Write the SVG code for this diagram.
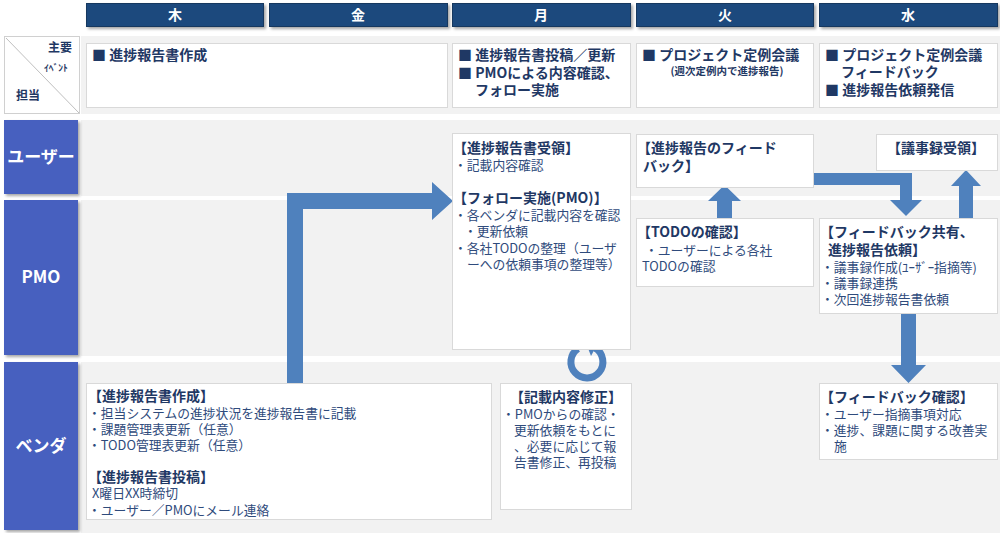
<svg xmlns="http://www.w3.org/2000/svg" width="1000" height="533" viewBox="0 0 1000 533">
<defs>
<filter id="sh" x="-10%" y="-10%" width="130%" height="150%"><feDropShadow dx="2" dy="2" stdDeviation="1.5" flood-color="#000" flood-opacity="0.35"/></filter>
</defs>
<style>
text{font-family:'Noto Sans CJK JP','Noto Sans CJK SC',sans-serif;}
.hd{fill:#1F497D;stroke:#17375E;stroke-width:1}
.hdt{fill:#fff;font-size:14px;font-weight:bold;text-anchor:middle}
.lane{fill:#F2F2F2}
.lb{fill:#4760BF}
.lbt{fill:#fff;font-size:17px;font-weight:bold;text-anchor:middle}
.box{fill:#fff;stroke:#D9D9D9;stroke-width:1}
.ev{fill:#1F3864;font-size:14px;font-weight:bold}
.sub{fill:#1F3864;font-size:10.5px;font-weight:bold;text-anchor:middle}
.ti{fill:#1F3864;font-size:14px;font-weight:bold}
.bd{fill:#2F4B7C;font-size:12.8px}
.ar{fill:#4F81BD}
.cn{fill:#1F3864;font-weight:bold}
</style>
<rect width="1000" height="533" fill="#fff"/>
<g id="headers">
<rect class="hd" x="86.5" y="3.5" width="177" height="23" filter="url(#sh)"/>
<text class="hdt" x="175" y="20">木</text>
<rect class="hd" x="269.5" y="3.5" width="178" height="23" filter="url(#sh)"/>
<text class="hdt" x="358" y="20">金</text>
<rect class="hd" x="452.5" y="3.5" width="178" height="23" filter="url(#sh)"/>
<text class="hdt" x="541" y="20">月</text>
<rect class="hd" x="636.5" y="3.5" width="177" height="23" filter="url(#sh)"/>
<text class="hdt" x="725" y="20">火</text>
<rect class="hd" x="819.5" y="3.5" width="178" height="23" filter="url(#sh)"/>
<text class="hdt" x="908" y="20">水</text>
</g>
<g id="lanes">
<rect class="lane" x="81" y="36" width="919" height="78"/>
<rect class="lane" x="81" y="120" width="919" height="76"/>
<rect class="lane" x="81" y="200" width="919" height="156"/>
<rect class="lane" x="81" y="362" width="919" height="171"/>
</g>
<g id="corner">
<rect x="4.5" y="36.5" width="75" height="77" fill="#fff" stroke="#D0D0D0"/>
<line x1="6" y1="38" x2="79" y2="113" stroke="#BFBFBF" stroke-width="1"/>
<text class="cn" x="48" y="52" font-size="12">主要</text>
<text class="cn" x="44" y="71" font-size="9.5">ｲﾍﾞﾝﾄ</text>
<text class="cn" x="16" y="100" font-size="12">担当</text>
</g>
<g id="events">
<rect class="box" x="86.5" y="43.5" width="361" height="64"/>
<text class="ev" x="92" y="60">■ 進捗報告書作成</text>
<rect class="box" x="452.5" y="43.5" width="178" height="64"/>
<text class="ev" x="458" y="60">■ 進捗報告書投稿／更新</text>
<text class="ev" x="458" y="78">■ PMOによる内容確認、</text>
<text class="ev" x="475" y="95">フォロー実施</text>
<rect class="box" x="636.5" y="43.5" width="177" height="64"/>
<text class="ev" x="642" y="60">■ プロジェクト定例会議</text>
<text class="sub" x="727" y="75">(週次定例内で進捗報告)</text>
<rect class="box" x="819.5" y="43.5" width="178" height="64"/>
<text class="ev" x="825" y="60">■ プロジェクト定例会議</text>
<text class="ev" x="841" y="77">フィードバック</text>
<text class="ev" x="825" y="95">■ 進捗報告依頼発信</text>
</g>
<g id="lane-labels">
<rect class="lb" x="4" y="120" width="74" height="74" filter="url(#sh)"/>
<text class="lbt" x="41" y="163">ユーザー</text>
<rect class="lb" x="4" y="200" width="74" height="155" filter="url(#sh)"/>
<text class="lbt" x="41" y="283">PMO</text>
<rect class="lb" x="4" y="362" width="74" height="168" filter="url(#sh)"/>
<text class="lbt" x="41" y="452">ベンダ</text>
</g>
<g id="connectors">
<polygon class="ar" points="287,386 287,193 432,193 432,182 453,201 432,220 432,209 303,209 303,386"/>
<polygon class="ar" points="717,218 717,201 708,201 724.5,185 741,201 732,201 732,218"/>
<polygon class="ar" points="813,173 912,173 912,200 922,200 906,216 890,200 900,200 900,185 813,185"/>
<polygon class="ar" points="959,218 959,186 951,186 966,170 981,186 973,186 973,218"/>
<polygon class="ar" points="901,313 916,313 916,365 926,365 908.5,383 891,365 901,365"/>
<g id="loop">
<path d="M595,348.1 A16,16 0 1 1 578,348.6" fill="none" stroke="#4F81BD" stroke-width="7"/>
<polygon class="ar" points="599.5,340 591,356 586,343"/>
</g>
</g>
<g id="n-mon">
<rect class="box" x="452.5" y="133.5" width="178" height="216"/>
<text class="ti" x="453" y="153">【進捗報告書受領】</text>
<text class="bd" x="454" y="170">・記載内容確認</text>
<text class="ti" x="453" y="203">【フォロー実施(PMO)】</text>
<text class="bd" x="454" y="220">・各ベンダに記載内容を確認</text>
<text class="bd" x="464" y="236">・更新依頼</text>
<text class="bd" x="454" y="253">・各社TODOの整理（ユーザ</text>
<text class="bd" x="467" y="269">ーへの依頼事項の整理等）</text>
</g>
<g id="n-tue-user">
<rect class="box" x="636.5" y="134.5" width="177" height="53"/>
<text class="ti" x="637" y="153">【進捗報告のフィード</text>
<text class="ti" x="643" y="171">バック】</text>
</g>
<g id="n-tue-pmo">
<rect class="box" x="636.5" y="218.5" width="177" height="68"/>
<text class="ti" x="637" y="237">【TODOの確認】</text>
<text class="bd" x="645" y="255">・ユーザーによる各社</text>
<text class="bd" x="642" y="271">TODOの確認</text>
</g>
<g id="n-wed-user">
<rect class="box" x="876.5" y="134.5" width="121" height="36"/>
<text class="ti" x="936" y="153" text-anchor="middle">【議事録受領】</text>
</g>
<g id="n-wed-pmo">
<rect class="box" x="819.5" y="218.5" width="178" height="95"/>
<text class="ti" x="820" y="237">【フィードバック共有、</text>
<text class="ti" x="828" y="255">進捗報告依頼】</text>
<text class="bd" x="821" y="272">・議事録作成(ﾕｰｻﾞｰ指摘等)</text>
<text class="bd" x="821" y="288">・議事録連携</text>
<text class="bd" x="821" y="304">・次回進捗報告書依頼</text>
</g>
<g id="n-vendor-thu">
<rect class="box" x="86.5" y="383.5" width="405" height="136"/>
<text class="ti" x="88" y="401">【進捗報告書作成】</text>
<text class="bd" x="88" y="418">・担当システムの進捗状況を進捗報告書に記載</text>
<text class="bd" x="88" y="434">・課題管理表更新（任意）</text>
<text class="bd" x="88" y="450">・TODO管理表更新（任意）</text>
<text class="ti" x="88" y="482">【進捗報告書投稿】</text>
<text class="bd" x="92" y="498">X曜日XX時締切</text>
<text class="bd" x="88" y="515">・ユーザー／PMOにメール連絡</text>
</g>
<g id="n-vendor-mon">
<rect class="box" x="500.5" y="383.5" width="131" height="126"/>
<text class="ti" x="566" y="402" text-anchor="middle">【記載内容修正】</text>
<text class="bd" x="502" y="419">・PMOからの確認・</text>
<text class="bd" x="514" y="435">更新依頼をもとに</text>
<text class="bd" x="514" y="451">、必要に応じて報</text>
<text class="bd" x="514" y="467">告書修正、再投稿</text>
</g>
<g id="n-vendor-wed">
<rect class="box" x="819.5" y="383.5" width="178" height="76"/>
<text class="ti" x="820" y="402">【フィードバック確認】</text>
<text class="bd" x="821" y="419">・ユーザー指摘事項対応</text>
<text class="bd" x="821" y="435">・進捗、課題に関する改善実</text>
<text class="bd" x="834" y="451">施</text>
</g>
</svg>
